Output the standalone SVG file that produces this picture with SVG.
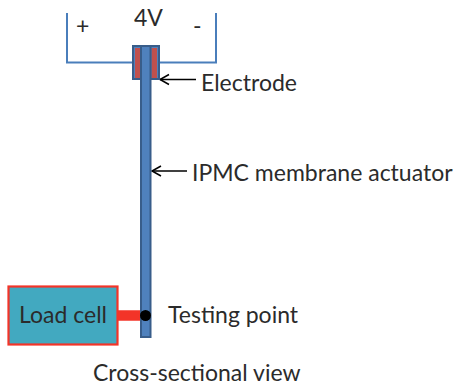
<svg xmlns="http://www.w3.org/2000/svg" width="455" height="389" viewBox="0 0 455 389">
<defs>
<marker id="open" markerUnits="userSpaceOnUse" markerWidth="14" markerHeight="14" refX="13" refY="7" orient="auto" overflow="visible">
<path d="M4 2L13 7L4 12" fill="none" stroke="#000" stroke-width="1.500"/>
</marker>
</defs>
<style>
text{font-family:Lato,"Open Sans","Liberation Sans",sans-serif;fill:#2b2b2b;font-size:23px}
.wire{fill:none;stroke:#4a7ebb;stroke-width:2}
.arrow{fill:none;stroke:#000;stroke-width:1.600}
</style>
<rect width="455" height="389" fill="#fff"/>
<g id="connectors">
<path class="wire" d="M67 13V62.500H133"/>
<path class="wire" d="M159 62.500H216V13"/>
<path class="arrow" d="M196 79.500H160" marker-end="url(#open)"/>
<path class="arrow" d="M187 171H152" marker-end="url(#open)"/>
<path d="M117 315.500H146" fill="none" stroke="#f33428" stroke-width="10.500"/>
</g>
<g id="electrode">
<rect x="133" y="46" width="26" height="33" fill="#4f81bd" stroke="#385d8a" stroke-width="2"/>
<rect x="135" y="48" width="5.500" height="30" fill="#c0504d"/>
<rect x="151.500" y="48" width="5.500" height="30" fill="#c0504d"/>
</g>
<g id="membrane">
<rect x="141" y="46" width="9.500" height="291" fill="#4f81bd" stroke="#385d8a" stroke-width="2"/>
</g>
<g id="load-cell">
<rect x="8.500" y="286.500" width="109" height="58" fill="#42a9c0" stroke="#f33428" stroke-width="2.200"/>
<text x="63" y="323" text-anchor="middle">Load cell</text>
</g>
<g id="testing-point">
<circle cx="145.500" cy="315.500" r="5.500" fill="#000"/>
<text x="168" y="323">Testing point</text>
</g>
<g id="labels">
<text x="76" y="34">+</text>
<text x="134" y="26">4V</text>
<text x="193" y="34">-</text>
<text x="201" y="91">Electrode</text>
<text x="192" y="181">IPMC membrane actuator</text>
<text x="93" y="381">Cross-sectional view</text>
</g>
</svg>
